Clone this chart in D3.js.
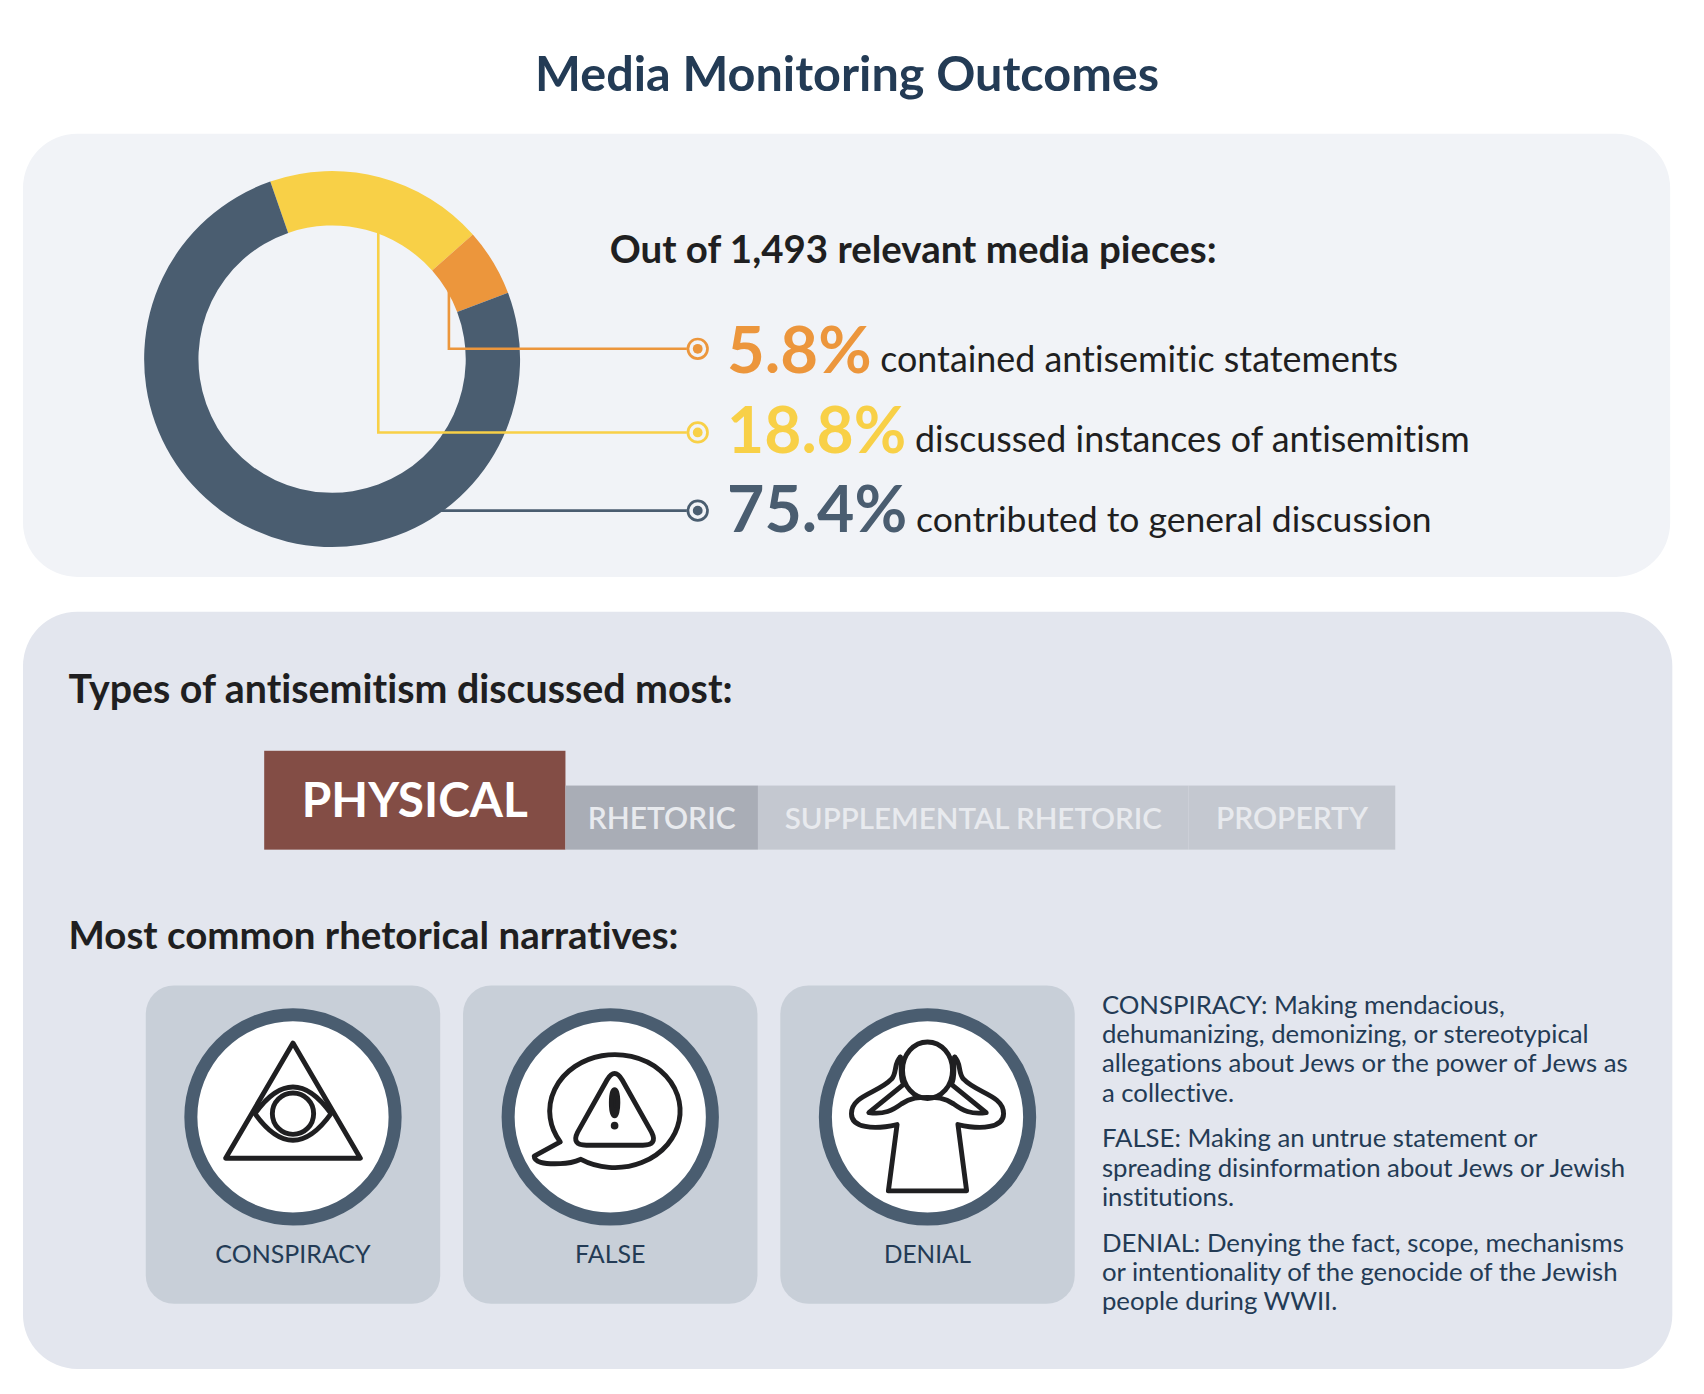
<!DOCTYPE html>
<html>
<head>
<meta charset="utf-8">
<title>Media Monitoring Outcomes</title>
<script src="https://cdn.jsdelivr.net/npm/d3@7"></script>
<style>
  body { margin: 0; background: #fff; }
  svg { display: block; }
  text { font-family: Lato, "Open Sans", sans-serif; font-variant-ligatures: none; }
</style>
</head>
<body>
<svg class="chart"></svg>
<script>
// data
var outcomeLabels = ["discussed instances of antisemitism", "contained antisemitic statements", "contributed to general discussion"];
var outcomeValues = [18.8, 5.8, 75.4];
var outcomeColors = ["#f8d047", "#ec963c", "#4a5d70"];

var typeLabels = ["PHYSICAL", "RHETORIC", "SUPPLEMENTAL RHETORIC", "PROPERTY"];
var typeWeights = [277, 177, 396, 190];   // band widths as drawn, no numbers in the original
var typeColors = ["#834d45", "#a9adb6", "#c4c8d0", "#c4c8d0"];

var narrativeLabels = ["CONSPIRACY", "FALSE", "DENIAL"];
var definitions = [
  ["CONSPIRACY: Making mendacious,", "dehumanizing, demonizing, or stereotypical", "allegations about Jews or the power of Jews as", "a collective."],
  ["FALSE: Making an untrue statement or", "spreading disinformation about Jews or Jewish", "institutions."],
  ["DENIAL: Denying the fact, scope, mechanisms", "or intentionality of the genocide of the Jewish", "people during WWII."]
];

var ink = "#1f1f21";
var navy = "#233b55";
var slate = "#4a5d70";

var svg = d3.select(".chart")
  .attr("width", 1704)
  .attr("height", 1394)
  .attr("viewBox", "0 0 1568 1283");

svg.append("text")
  .text("Media Monitoring Outcomes")
  .attr("x", 779.5)
  .attr("y", 84)
  .attr("text-anchor", "middle")
  .attr("font-size", 44.7)
  .attr("font-weight", 700)
  .attr("fill", navy);

// the two panels
svg.append("rect")
  .attr("x", 21).attr("y", 123)
  .attr("width", 1516).attr("height", 408)
  .attr("rx", 50)
  .attr("fill", "#f1f3f7");

svg.append("rect")
  .attr("x", 21).attr("y", 563)
  .attr("width", 1518).attr("height", 697)
  .attr("rx", 50)
  .attr("fill", "#e3e6ee");

// donut
var cx = 305.5, cy = 330.5;
var pie = d3.pie()
  .sort(null)
  .startAngle(-19.2 * Math.PI / 180)
  .endAngle(340.8 * Math.PI / 180);
var arc = d3.arc().innerRadius(123).outerRadius(173);

svg.append("g")
  .attr("transform", "translate(" + cx + "," + cy + ")")
  .selectAll("path")
  .data(pie(outcomeValues))
  .enter()
  .append("path")
  .attr("d", arc)
  .attr("fill", function(d, i){ return outcomeColors[i]; });

// rows are listed top to bottom: orange, yellow, slate
var rowOrder = [1, 0, 2];
var rowLine = [321, 398, 470];
var rowBase = [343, 417, 490];
var rowNoteBase = [342, 416, 490];
var rowNote = [810, 842, 843];
var rowPctSize = [60, 59, 59.3];
var rowNoteSize = [33, 33, 32.7];

// leader lines
var leaders = [
  [[413, 265], [413, 321], [632, 321]],
  [[348, 212], [348, 398], [632, 398]],
  [[405, 470], [632, 470]]
];
svg.selectAll(".leader")
  .data(leaders)
  .enter()
  .append("path")
  .attr("class", "leader")
  .attr("d", d3.line())
  .attr("fill", "none")
  .attr("stroke-width", 2.4)
  .attr("stroke", function(d, i){ return outcomeColors[rowOrder[i]]; });

// row markers
svg.selectAll(".marker")
  .data(rowOrder)
  .enter()
  .append("circle")
  .attr("class", "marker")
  .attr("cx", 642)
  .attr("cy", function(d, i){ return rowLine[i]; })
  .attr("r", 9)
  .attr("fill", "#f1f3f7")
  .attr("stroke-width", 2.5)
  .attr("stroke", function(d){ return outcomeColors[d]; });

svg.selectAll(".dot")
  .data(rowOrder)
  .enter()
  .append("circle")
  .attr("class", "dot")
  .attr("cx", 642)
  .attr("cy", function(d, i){ return rowLine[i]; })
  .attr("r", 4.5)
  .attr("fill", function(d){ return outcomeColors[d]; });

// row texts
svg.selectAll(".pct")
  .data(rowOrder)
  .enter()
  .append("text")
  .attr("class", "pct")
  .text(function(d){ return outcomeValues[d] + "%"; })
  .attr("x", 669)
  .attr("y", function(d, i){ return rowBase[i]; })
  .attr("font-size", function(d, i){ return rowPctSize[i]; })
  .attr("font-weight", 700)
  .attr("fill", function(d){ return outcomeColors[d]; });

svg.selectAll(".note")
  .data(rowOrder)
  .enter()
  .append("text")
  .attr("class", "note")
  .text(function(d){ return outcomeLabels[d]; })
  .attr("x", function(d, i){ return rowNote[i]; })
  .attr("y", function(d, i){ return rowNoteBase[i]; })
  .attr("font-size", function(d, i){ return rowNoteSize[i]; })
  .attr("fill", ink);

// section heads
var heads = [
  ["Out of 1,493 relevant media pieces:", 561, 242, 35.4],
  ["Types of antisemitism discussed most:", 63, 647, 36.2],
  ["Most common rhetorical narratives:", 63, 873, 35.4]
];
svg.selectAll(".head")
  .data(heads)
  .enter()
  .append("text")
  .attr("class", "head")
  .text(function(d){ return d[0]; })
  .attr("x", function(d){ return d[1]; })
  .attr("y", function(d){ return d[2]; })
  .attr("font-size", function(d){ return d[3]; })
  .attr("font-weight", 700)
  .attr("fill", ink);

// band of antisemitism types
var x = d3.scaleLinear()
  .domain([0, d3.sum(typeWeights)])
  .range([243, 1284]);
var starts = d3.cumsum([0].concat(typeWeights));

svg.selectAll(".band")
  .data(typeLabels)
  .enter()
  .append("rect")
  .attr("class", "band")
  .attr("x", function(d, i){ return x(starts[i]); })
  .attr("y", function(d, i){ return i === 0 ? 691 : 723; })
  .attr("width", function(d, i){ return x(starts[i + 1]) - x(starts[i]); })
  .attr("height", function(d, i){ return i === 0 ? 91 : 59; })
  .attr("fill", function(d, i){ return typeColors[i]; });

svg.selectAll(".bandLabel")
  .data(typeLabels)
  .enter()
  .append("text")
  .attr("class", "bandLabel")
  .text(function(d){ return d; })
  .attr("x", function(d, i){ return (x(starts[i]) + x(starts[i + 1])) / 2; })
  .attr("y", function(d, i){ return i === 0 ? 752 : 763; })
  .attr("text-anchor", "middle")
  .attr("font-size", function(d, i){ return i === 0 ? 44 : (i === 2 ? 27.2 : 27.6); })
  .attr("font-weight", function(d, i){ return i === 0 ? 700 : 600; })
  .attr("fill", function(d, i){ return i === 0 ? "#ffffff" : "#e8eaee"; });

// narrative tiles
var tileX = d3.scalePoint()
  .domain(narrativeLabels)
  .range([269.5, 853.5]);

var tiles = svg.selectAll(".tile")
  .data(narrativeLabels)
  .enter()
  .append("g")
  .attr("class", "tile")
  .attr("transform", function(d){ return "translate(" + tileX(d) + ",1028)"; });

tiles.append("rect")
  .attr("x", -135.5).attr("y", -121)
  .attr("width", 271).attr("height", 293)
  .attr("rx", 26)
  .attr("fill", "#c8cfd8");

tiles.append("circle")
  .attr("r", 94)
  .attr("fill", "#fff")
  .attr("stroke", slate)
  .attr("stroke-width", 12);

tiles.append("text")
  .text(function(d){ return d; })
  .attr("y", 134)
  .attr("text-anchor", "middle")
  .attr("font-size", function(d){ return d === "DENIAL" ? 22.4 : 23; })
  .attr("fill", navy);

// icons, drawn around each circle's centre
var icons = tiles.append("g")
  .attr("fill", "none")
  .attr("stroke", ink)
  .attr("stroke-width", 4.5)
  .attr("stroke-linejoin", "round")
  .attr("stroke-linecap", "round");

var eye = icons.filter(function(d){ return d === "CONSPIRACY"; });
eye.append("path").attr("d", "M0 -68 L62 38 L-62 38 Z");
eye.append("path").attr("d", "M-35 -3 Q0 -52 35 -3 Q0 46 -35 -3 Z");
eye.append("circle").attr("cy", -3).attr("r", 19);

var warn = icons.filter(function(d){ return d === "FALSE"; })
  .append("g")
  .attr("transform", "translate(4,-4)");
warn.append("path").attr("d", "M-50 27 L-74 40 Q-74 48 -50 47 Q-40 47 -31 43 A60 52 0 1 0 -50 27 Z");
warn.append("path").attr("d", "M-7 -30 Q0 -42 7 -30 L34 18 Q40 30 26 30 L-26 30 Q-40 30 -34 18 Z");
warn.append("ellipse").attr("cy", -9).attr("rx", 3).attr("ry", 12).attr("fill", ink);
warn.append("circle").attr("cy", 12).attr("r", 3.5).attr("fill", ink).attr("stroke", "none");

var head = icons.filter(function(d){ return d === "DENIAL"; });
head.append("ellipse").attr("cy", -43).attr("rx", 23).attr("ry", 26);
// outer arms and body
head.append("path").attr("d", "M-25 -55 C-31 -50 -28 -40 -33 -35 C-45 -22 -70 -20 -70 -3 C-70 10 -50 12 -28 7 L-36 68 L36 68 L28 7 C50 12 70 10 70 -3 C70 -20 45 -22 33 -35 C28 -40 31 -50 25 -55");
// inner arms
head.append("path").attr("d", "M-25 -55 C-23 -45 -26 -38 -22 -30 L-54 -4 C-40 -2 -32 -6 -24 -12 C-15 -18 -8 -18 0 -18 C8 -18 15 -18 24 -12 C32 -6 40 -2 54 -4 L22 -30 C26 -38 23 -45 25 -55");

// definitions on the right
var defBase = [[933, 960, 987, 1014], [1056, 1083, 1110], [1152, 1179, 1206]];
var defs = svg.selectAll(".def")
  .data(definitions)
  .enter()
  .append("g")
  .attr("class", "def");

defs.selectAll("text")
  .data(function(d, i){ return d.map(function(t, j){ return {t: t, y: defBase[i][j]}; }); })
  .enter()
  .append("text")
  .text(function(d){ return d.t; })
  .attr("x", 1014)
  .attr("y", function(d){ return d.y; })
  .attr("font-size", 23.7)
  .attr("fill", navy);
</script>
</body>
</html>
